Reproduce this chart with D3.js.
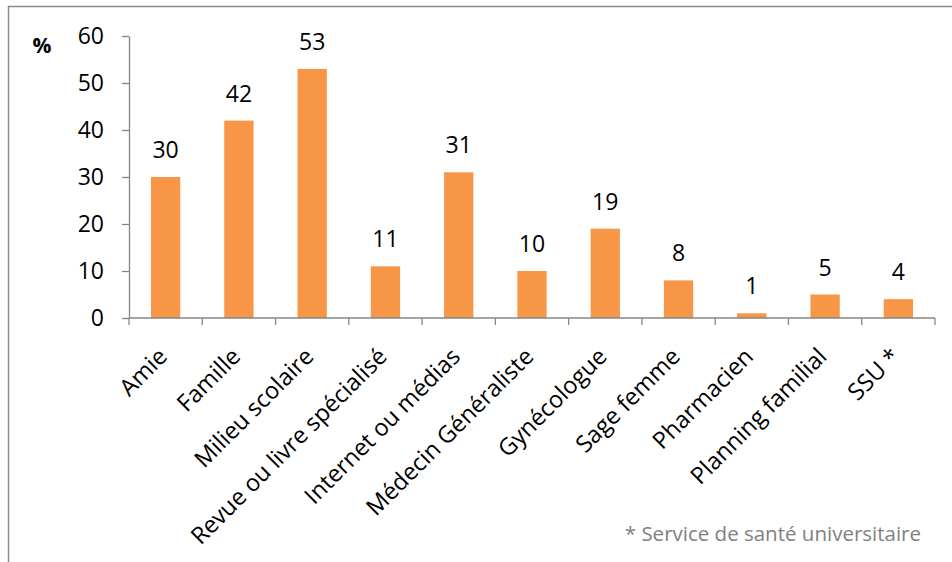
<!DOCTYPE html>
<html>
<head>
<meta charset="utf-8">
<script src="https://cdn.jsdelivr.net/npm/d3@7"></script>
<style>
  body { margin: 0; background: #ffffff; }
  svg text { font-family: "Open Sans", "Noto Sans", sans-serif; }
</style>
</head>
<body>
<script>
// Chart data.
const categories = ['Amie', 'Famille', 'Milieu scolaire', 'Revue ou livre spécialisé', 'Internet ou médias',
  'Médecin Généraliste', 'Gynécologue', 'Sage femme', 'Pharmacien', 'Planning familial', 'SSU *'];
const values = [30, 42, 53, 11, 31, 10, 19, 8, 1, 5, 4];
const yTicks = [0, 10, 20, 30, 40, 50, 60];
const footnote = '* Service de santé universitaire';

const width = 952, height = 562;
const plot = {left: 129, right: 935, top: 36, bottom: 318};

const svg = d3.select('body')
  .append('svg')
  .attr('width', width)
  .attr('height', height);

// Chart frame.
svg.append('rect')
  .attr('x', 8.5).attr('y', 6.5)
  .attr('width', 960).attr('height', 600)
  .attr('fill', 'none')
  .attr('stroke', '#8c8c8c')
  .attr('stroke-width', 1.5);

const x = d3.scaleBand()
  .domain(categories)
  .range([plot.left, plot.right])
  .padding(0);

const y = d3.scaleLinear()
  .domain([0, 60])
  .range([plot.bottom, plot.top]);

// Bars.
const bw = x.bandwidth();
svg.selectAll('rect.bar')
  .data(values)
  .enter()
  .append('rect')
  .attr('class', 'bar')
  .attr('x', (d, i) => x(categories[i]) + bw * 0.3)
  .attr('width', bw * 0.4)
  .attr('y', (d) => y(d))
  .attr('height', (d) => y(0) - y(d))
  .attr('fill', '#f79646');

// Value labels.
svg.selectAll('text.value')
  .data(values)
  .enter()
  .append('text')
  .attr('class', 'value')
  .attr('x', (d, i) => x(categories[i]) + bw / 2)
  .attr('y', (d) => y(d) - 19)
  .attr('text-anchor', 'middle')
  .attr('font-size', 23)
  .attr('fill', '#000')
  .text((d) => d);

// Y axis.
const yAxis = d3.axisLeft(y)
  .tickValues(yTicks)
  .tickSize(7)
  .tickPadding(18)
  .tickSizeOuter(0);

const gy = svg.append('g')
  .attr('transform', 'translate(' + plot.left + ',0)')
  .call(yAxis);
gy.select('.domain').attr('stroke', '#868686').attr('stroke-width', 1.3);
gy.selectAll('.tick line').attr('stroke', '#868686').attr('stroke-width', 1.3);
gy.selectAll('.tick text')
  .attr('font-size', 23)
  .attr('fill', '#000')
  .style('font-family', '"Open Sans", sans-serif');

// X axis line and ticks at band boundaries.
svg.append('line')
  .attr('x1', plot.left).attr('x2', plot.right)
  .attr('y1', plot.bottom).attr('y2', plot.bottom)
  .attr('stroke', '#868686').attr('stroke-width', 1.3);

const boundaries = categories.map((c) => x(c)).concat([plot.right]);
svg.selectAll('line.xtick')
  .data(boundaries)
  .enter()
  .append('line')
  .attr('class', 'xtick')
  .attr('x1', (d) => d).attr('x2', (d) => d)
  .attr('y1', plot.bottom).attr('y2', plot.bottom + 7)
  .attr('stroke', '#868686').attr('stroke-width', 1.3);

// X labels, rotated.
svg.selectAll('text.xlabel')
  .data(categories)
  .enter()
  .append('text')
  .attr('class', 'xlabel')
  .attr('transform', (d) => 'translate(' + (x(d) + bw / 2 + 3) + ',' + (plot.bottom + 40) + ') rotate(-45)')
  .attr('text-anchor', 'end')
  .attr('font-size', 23.5)
  .attr('fill', '#000')
  .text((d) => d);

// Unit label.
svg.append('text')
  .attr('x', 42).attr('y', 53)
  .attr('text-anchor', 'middle')
  .attr('font-size', 21)
  .attr('font-weight', 'bold')
  .attr('fill', '#000')
  .text('%');

// Footnote.
svg.append('text')
  .attr('x', 921).attr('y', 541)
  .attr('text-anchor', 'end')
  .attr('font-size', 20.5)
  .attr('fill', '#808080')
  .text(footnote);
</script>
</body>
</html>
